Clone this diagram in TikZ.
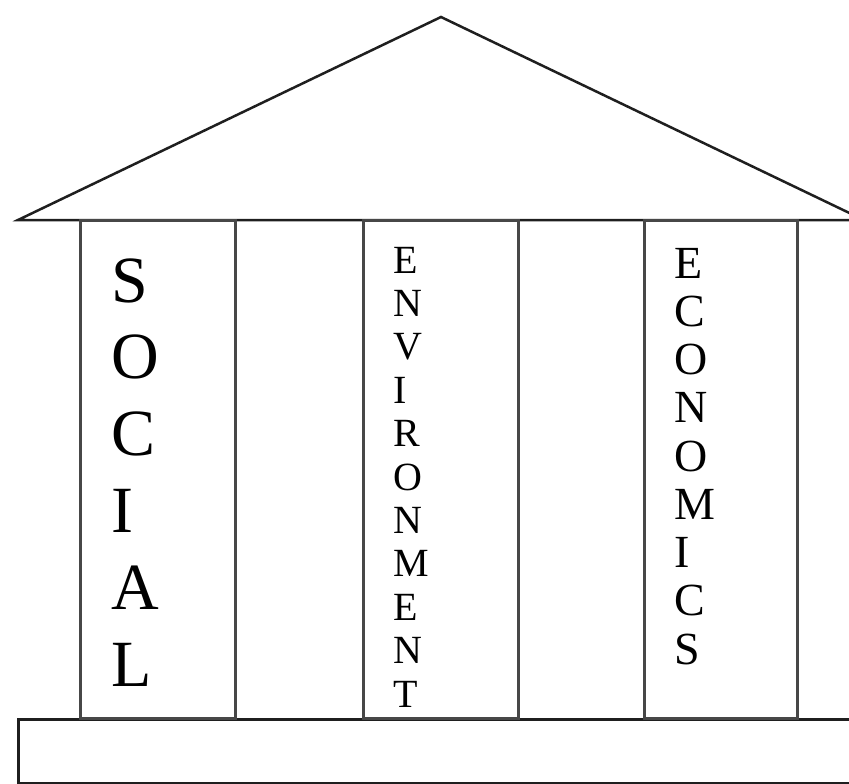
\documentclass[tikz,border=0pt]{standalone}
\usepackage{fontspec}
\setmainfont{Liberation Serif}
\usetikzlibrary{positioning}
\definecolor{roofgray}{gray}{0.12}
\definecolor{pillargray}{gray}{0.28}

\begin{document}
\begin{tikzpicture}[x=1pt,y=-1pt,node distance=128pt,
  pillar/.style={draw=pillargray,line width=3pt,inner sep=0pt,outer sep=0pt,
                 minimum width=155pt,minimum height=498pt},
  bigletter/.style={font=\fontsize{66}{66}\selectfont,anchor=base west,inner sep=0pt},
  envletter/.style={font=\fontsize{40}{40}\selectfont,anchor=base west,inner sep=0pt},
  ecoletter/.style={font=\fontsize{46}{46}\selectfont,anchor=base west,inner sep=0pt}]
\useasboundingbox (0,0) rectangle (849,784);
\clip (0,0) rectangle (849,784);
% roof
\coordinate (eaveL) at (18,220);
\coordinate (ridge) at (441,17);
\coordinate (eaveR) at (864,220);
\draw[roofgray,line width=2.5pt] (eaveL) -- (ridge) -- (eaveR) -- cycle;
% plinth
\node[draw=roofgray,line width=3pt,anchor=north west,inner sep=0pt,
      minimum width=883pt,minimum height=64pt] (plinth) at (17,718) {};
% the three pillars
\node[pillar,anchor=north west] (social) at (80,220) {};
\node[pillar,right=of social] (environment) {};
\node[pillar,right=126pt of environment,minimum width=153pt] (economics) {};
% lettering, one letter per line
\foreach \ch [count=\i from 0] in {S,O,C,I,A,L}
  \node[bigletter] (soc\i) at (111,302+76.8*\i) {\ch};
\foreach \ch [count=\i from 0] in {E,N,V,I,R,O,N,M,E,N,T}
  \node[envletter] (env\i) at (393,273+43.4*\i) {\ch};
\foreach \ch [count=\i from 0] in {E,C,O,N,O,M,I,C,S}
  \node[ecoletter] (eco\i) at (674,278+48.25*\i) {\ch};
\end{tikzpicture}
\end{document}
